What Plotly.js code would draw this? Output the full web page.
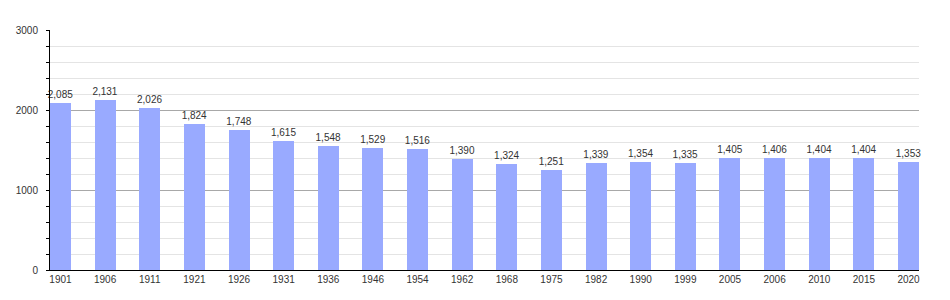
<!DOCTYPE html>
<html>
<head>
<meta charset="utf-8">
<script src="https://cdn.plot.ly/plotly-3.0.1.min.js"></script>
<style>html,body{margin:0;padding:0;background:#fff;}</style>
</head>
<body>
<div id="chart" style="width:950px;height:300px;"></div>
<script>
const years = ["1901","1906","1911","1921","1926","1931","1936","1946","1954","1962","1968","1975","1982","1990","1999","2005","2006","2010","2015","2020"];
const population = [2085,2131,2026,1824,1748,1615,1548,1529,1516,1390,1324,1251,1339,1354,1335,1405,1406,1404,1404,1353];
const yTicks = [0,1000,2000,3000];

const FONT = 'Liberation Sans, Arial, sans-serif';

const trace = {
  type: 'bar',
  x: years,
  y: population,
  marker: {color: '#99aaff'},
  width: 0.47,
  texttemplate: '%{y:,}',
  textposition: 'outside',
  constraintext: 'none',
  cliponaxis: false,
  textfont: {family: FONT, size: 10, color: '#333'},
  hoverinfo: 'x+y'
};

const layout = {
  width: 950, height: 300,
  margin: {l: 50, r: 31, t: 30, b: 30},
  paper_bgcolor: '#fff', plot_bgcolor: '#fff',
  showlegend: false,
  bargap: 0,
  xaxis: {
    type: 'category',
    range: [-0.235, years.length - 1 + 0.235],
    showline: true, linecolor: '#000', linewidth: 1,
    ticks: '', showgrid: false,
    tickfont: {family: FONT, size: 10, color: '#333'}
  },
  yaxis: {
    range: [0, 3000],
    tickvals: yTicks,
    ticktext: yTicks.map(String),
    showline: true, linecolor: '#000', linewidth: 1,
    ticks: 'outside', ticklen: 3, tickcolor: '#000',
    ticklabelstandoff: 6,
    showgrid: true, gridcolor: '#a8a8a8', gridwidth: 1,
    zeroline: false,
    tickfont: {family: FONT, size: 10, color: '#333'},
    minor: {dtick: 200, showgrid: true, gridcolor: '#e4e4e4', ticks: 'outside', ticklen: 3, tickcolor: '#000'}
  }
};

Plotly.newPlot('chart', [trace], layout, {displayModeBar: false, staticPlot: true});
</script>
</body>
</html>
